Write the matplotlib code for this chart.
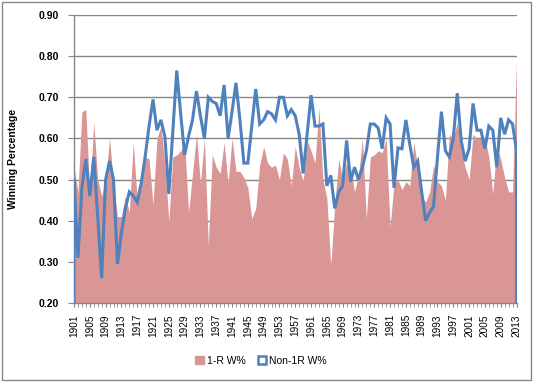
import numpy as np
import matplotlib
matplotlib.use("Agg")
import matplotlib.pyplot as plt
from matplotlib.patches import Patch, Rectangle

# Data (1901-2013)
years = list(range(1901, 2014))

one_r_wpct = [
    0.53, 0.47, 0.665, 0.67, 0.46, 0.64, 0.50, 0.46, 0.50, 0.60,   # 1901-1910
    0.49, 0.41, 0.41, 0.46, 0.42, 0.59, 0.45, 0.48, 0.555, 0.55,   # 1911-1920
    0.44, 0.60, 0.63, 0.535, 0.40, 0.555, 0.56, 0.57, 0.59, 0.42,  # 1921-1930
    0.515, 0.61, 0.49, 0.60, 0.34, 0.56, 0.53, 0.515, 0.59, 0.49,  # 1931-1940
    0.60, 0.52, 0.52, 0.505, 0.48, 0.405, 0.43, 0.535, 0.58, 0.54, # 1941-1950
    0.53, 0.535, 0.50, 0.565, 0.55, 0.485, 0.58, 0.53, 0.495, 0.595, # 1951-1960
    0.57, 0.54, 0.675, 0.50, 0.455, 0.29, 0.44, 0.55, 0.50, 0.54,  # 1961-1970
    0.53, 0.47, 0.51, 0.60, 0.405, 0.555, 0.56, 0.57, 0.565, 0.60, # 1971-1980
    0.385, 0.49, 0.50, 0.475, 0.495, 0.485, 0.59, 0.53, 0.46, 0.445, # 1981-1990
    0.47, 0.535, 0.495, 0.485, 0.45, 0.61, 0.60, 0.64, 0.57, 0.53, # 1991-2000
    0.50, 0.61, 0.60, 0.60, 0.60, 0.555, 0.465, 0.58, 0.55, 0.505, # 2001-2010
    0.47, 0.47, 0.79,                                              # 2011-2013
]

non_1r_wpct = [
    0.50, 0.31, 0.48, 0.55, 0.46, 0.555, 0.41, 0.26, 0.50, 0.545,  # 1901-1910
    0.50, 0.295, 0.37, 0.43, 0.47, 0.46, 0.445, 0.49, 0.555, 0.63, # 1911-1920
    0.695, 0.62, 0.645, 0.605, 0.465, 0.615, 0.765, 0.66, 0.56, 0.605, # 1921-1930
    0.645, 0.715, 0.655, 0.60, 0.70, 0.69, 0.685, 0.655, 0.73, 0.60,  # 1931-1940
    0.665, 0.735, 0.645, 0.54, 0.54, 0.63, 0.72, 0.635, 0.645, 0.665, # 1941-1950
    0.66, 0.645, 0.70, 0.70, 0.655, 0.67, 0.655, 0.61, 0.515, 0.61,   # 1951-1960
    0.705, 0.63, 0.63, 0.635, 0.485, 0.51, 0.43, 0.47, 0.485, 0.595,  # 1961-1970
    0.495, 0.53, 0.50, 0.53, 0.57, 0.635, 0.635, 0.625, 0.575, 0.65,  # 1971-1980
    0.635, 0.48, 0.577, 0.575, 0.645, 0.585, 0.53, 0.545, 0.47, 0.40, # 1981-1990
    0.42, 0.435, 0.555, 0.665, 0.57, 0.555, 0.60, 0.71, 0.595, 0.545, # 1991-2000
    0.575, 0.685, 0.62, 0.62, 0.575, 0.63, 0.62, 0.53, 0.65, 0.61,    # 2001-2010
    0.645, 0.635, 0.57,                                               # 2011-2013
]

PINK = "#D99694"
BLUE = "#4F81BD"
GRID = "#868686"

plt.rcParams["font.family"] = ["Liberation Sans", "DejaVu Sans"]

fig = plt.figure(figsize=(5.33, 3.82), dpi=100)
ax = fig.add_axes([74 / 533, 1 - 303 / 382, (516.5 - 74) / 533, (303 - 15) / 382])

base = 0.20
ax.fill_between(years, base, one_r_wpct, color=PINK, lw=0, zorder=2)

# Non-1R series drawn as an unfilled area: outline drops to the axis at both ends
line_x = [years[0]] + years + [years[-1]]
line_y = [base] + non_1r_wpct + [base]
ax.plot(line_x, line_y, color=BLUE, lw=2.2, zorder=3, solid_joinstyle="miter")

ax.set_xlim(1901, 2013)
ax.set_ylim(0.20, 0.90)
ax.set_yticks(np.arange(0.2, 0.91, 0.1))
ax.set_yticklabels([f"{v:.2f}" for v in np.arange(0.2, 0.91, 0.1)],
                   fontsize=7.5, fontweight="bold")
ax.set_xticks(years[::4])
ax.set_xticklabels([str(y) for y in years[::4]], rotation=90, fontsize=7.2)
ax.set_xticks(years, minor=True)
ax.tick_params(axis="x", which="both", direction="out", length=3, color=GRID, pad=5)
ax.tick_params(axis="y", direction="out", length=4, color=GRID, pad=7)

ax.grid(axis="y", color=GRID, lw=1, zorder=0)
ax.set_axisbelow(True)
for side in ("top", "right"):
    ax.spines[side].set_visible(False)
for side in ("left", "bottom"):
    ax.spines[side].set_color(GRID)
    ax.spines[side].set_linewidth(1)

ax.set_ylabel("Winning Percentage", fontsize=7.5, fontweight="bold")
ax.yaxis.set_label_coords(-0.127, 0.5)

handles = [Patch(facecolor=PINK, edgecolor=PINK, label="1-R W%"),
           Patch(facecolor="white", edgecolor=BLUE, lw=1.8, label="Non-1R W%")]
fig.legend(handles=handles, loc="center", bbox_to_anchor=(0.49, 0.055), ncol=2,
           frameon=False, fontsize=7.5, handlelength=0.8, handleheight=0.8,
           handletextpad=0.3, columnspacing=1.2)

fig.patches.append(Rectangle((0.004, 0.005), 0.992, 0.99, transform=fig.transFigure,
                             fill=False, edgecolor=GRID, lw=1))

fig.savefig("out.png", dpi=100)
